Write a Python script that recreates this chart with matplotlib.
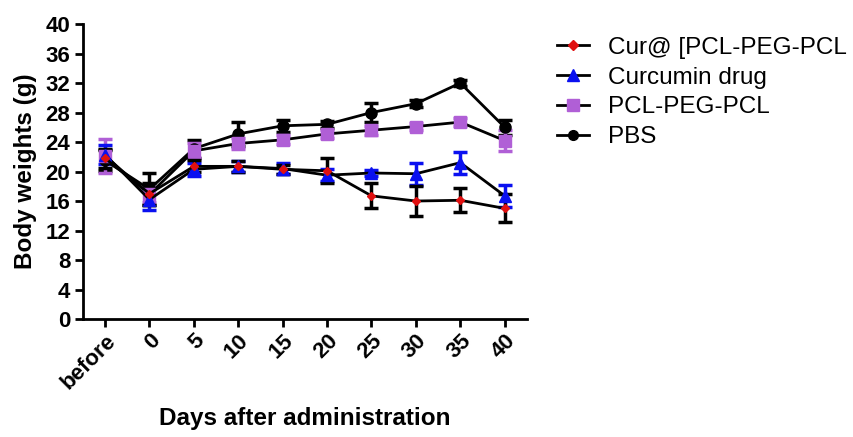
import numpy as np
import matplotlib.pyplot as plt
from matplotlib.lines import Line2D

plt.rcParams['font.family'] = ['Liberation Sans', 'DejaVu Sans']

# time points (days after administration)
days = ['before', '0', '5', '10', '15', '20', '25', '30', '35', '40']

# mean body weight (g) and error per group
cur_np = [21.8, 17.0, 20.7, 20.7, 20.3, 20.1, 16.7, 16.0, 16.1, 15.0]
cur_np_err = [1.3, 1.5, 0.8, 0.7, 0.6, 1.7, 1.7, 2.0, 1.6, 1.9]

curcumin = [22.3, 16.2, 20.3, 20.7, 20.4, 19.5, 19.8, 19.7, 21.2, 16.7]
curcumin_err = [1.3, 1.4, 0.9, 0.7, 0.7, 0.8, 0.4, 1.5, 1.5, 1.5]

pcl = [22.1, 16.9, 22.8, 23.8, 24.3, 25.1, 25.6, 26.1, 26.7, 24.2]
pcl_err = [2.3, 1.0, 1.0, 0.8, 0.6, 0.5, 0.6, 0.5, 0.5, 1.4]

pbs = [21.5, 17.6, 23.1, 25.1, 26.2, 26.4, 28.0, 29.2, 32.0, 26.0]
pbs_err = [1.4, 2.2, 1.2, 1.6, 0.8, 0.5, 1.3, 0.5, 0.4, 1.0]

x = np.arange(len(days))

purple = '#b05fd6'
blue = '#0a10f0'
red = '#e01010'

fig = plt.figure(figsize=(8.54, 4.37), dpi=100)
ax = fig.add_axes([0.097, 0.27, 0.52, 0.675])

common = dict(linewidth=2, elinewidth=2.5, capsize=5, capthick=2.5, color='black')

ax.errorbar(x, pbs, yerr=pbs_err, marker='o', markersize=8,
            markerfacecolor='black', markeredgecolor='black',
            ecolor='black', **common)
ax.errorbar(x, pcl, yerr=pcl_err, marker='s', markersize=8,
            markerfacecolor=purple, markeredgecolor=purple,
            ecolor=purple, **common)
ax.errorbar(x, curcumin, yerr=curcumin_err, marker='^', markersize=8,
            markerfacecolor=blue, markeredgecolor=blue,
            ecolor=blue, **common)
ax.errorbar(x, cur_np, yerr=cur_np_err, marker='D', markersize=4,
            markerfacecolor=red, markeredgecolor=red,
            ecolor='black', **common)

ax.set_xlim(-0.5, 9.5)
ax.set_ylim(0, 40)
ax.set_yticks(np.arange(0, 41, 4))
ax.set_xticks(x)
ax.set_xticklabels(days, rotation=45, ha='right', rotation_mode='anchor',
                   fontsize=16, fontweight='bold')
for t in ax.get_yticklabels():
    t.set_fontsize(16)
    t.set_fontweight('bold')

ax.spines['top'].set_visible(False)
ax.spines['right'].set_visible(False)
ax.spines['left'].set_linewidth(2)
ax.spines['bottom'].set_linewidth(2)
ax.tick_params(width=2, length=6, pad=2)
ax.tick_params(axis='y', pad=3)

ax.set_ylabel('Body weights (g)', fontsize=17.5, fontweight='bold', labelpad=6)
ax.set_xlabel('Days after administration', fontsize=17.5, fontweight='bold', labelpad=10)

# legend entries: black line with the group's marker
handles = [
    Line2D([], [], color='black', lw=2, marker='D', markersize=5,
           markerfacecolor=red, markeredgecolor=red),
    Line2D([], [], color='black', lw=2, marker='^', markersize=8,
           markerfacecolor=blue, markeredgecolor=blue),
    Line2D([], [], color='black', lw=2, marker='s', markersize=8,
           markerfacecolor=purple, markeredgecolor=purple),
    Line2D([], [], color='black', lw=2, marker='o', markersize=7,
           markerfacecolor='black', markeredgecolor='black'),
]
labels = ['Cur@ [PCL-PEG-PCL', 'Curcumin drug', 'PCL-PEG-PCL', 'PBS']
ax.legend(handles, labels, loc='upper left', bbox_to_anchor=(1.045, 0.99),
          frameon=False, fontsize=17.5, handlelength=1.35, handletextpad=0.75,
          labelspacing=0.32, borderaxespad=0)

plt.savefig('out.png', dpi=100)
